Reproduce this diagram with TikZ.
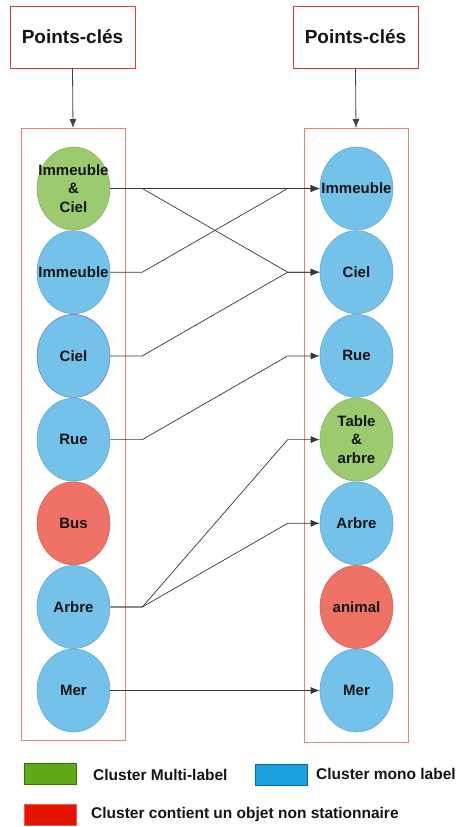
\documentclass[tikz,border=0pt]{standalone}
\usepackage{fontspec}
\setmainfont{Liberation Sans}
\usetikzlibrary{shapes.geometric,arrows.meta,calc}

\definecolor{blobblue}{RGB}{116,194,234}
\definecolor{blobblueline}{RGB}{104,166,212}
\definecolor{blobgreen}{RGB}{156,203,111}
\definecolor{blobgreenline}{RGB}{130,179,102}
\definecolor{blobred}{RGB}{238,114,102}
\definecolor{blobredline}{RGB}{214,100,90}
\definecolor{frameline}{RGB}{240,128,124}
\definecolor{titleline}{RGB}{232,58,58}
\definecolor{keygreen}{RGB}{96,169,23}
\definecolor{keygreenline}{RGB}{45,118,0}
\definecolor{keyblue}{RGB}{27,161,226}
\definecolor{keyblueline}{RGB}{0,110,175}
\definecolor{keyred}{RGB}{229,20,0}
\definecolor{keyredline}{RGB}{240,90,80}
\definecolor{ink}{RGB}{20,20,20}

\tikzset{
  titlebox/.style={draw=titleline, line width=0.9pt, minimum width=125pt, minimum height=62pt,
    font=\fontsize{19}{22}\selectfont\bfseries, text=ink},
  column/.style={draw=frameline, line width=1pt},
  blob/.style={ellipse, minimum width=73pt, minimum height=83pt, inner sep=0pt, line width=0.6pt},
  bblue/.style={blob, fill=blobblue, draw=blobblueline},
  bgreen/.style={blob, fill=blobgreen, draw=blobgreenline},
  bred/.style={blob, fill=blobred, draw=blobredline},
  blabel/.style={align=center, inner sep=0pt, text=ink,
    font=\fontsize{15}{18.5}\selectfont\bfseries},
  link/.style={draw=ink!85, line width=0.7pt, -{Latex[length=9pt,width=7pt]}},
  feed/.style={draw=ink!80, line width=0.8pt, -{Latex[length=9pt,width=7pt]}},
  keybox/.style={minimum width=52pt, minimum height=21pt, inner sep=0pt, line width=0.9pt},
  keytext/.style={anchor=west, inner sep=0pt, text=ink, font=\fontsize{15.5}{18}\selectfont\bfseries},
}

\begin{document}
\begin{tikzpicture}[x=1pt,y=-1pt]
  \useasboundingbox (0,0) rectangle (456,827);

  % headers
  \node[titlebox] (tl) at (72.5,37) {Points-clés};
  \node[titlebox] (tr) at (355.5,37) {Points-clés};

  % column frames
  \draw[column] (21,128) rectangle (125,740);
  \draw[column] (304,128) rectangle (408,742);
  \coordinate (fl) at (73,128);
  \coordinate (fr) at (356,128);
  \draw[feed] (tl.south) -- (fl);
  \draw[feed] (tr.south) -- (fr);

  % left column
  \node[bgreen] (l1) at (73.5,188.5) {};
  \node[bblue]  (l2) at (73.5,272.2) {};
  \node[bblue, draw={rgb,255:red,110;green,120;blue,215}] (l3) at (73.5,355.9) {};
  \node[bblue]  (l4) at (73.5,439.6) {};
  \node[bred]   (l5) at (73.5,523.3) {};
  \node[bblue]  (l6) at (73.5,607) {};
  \node[bblue]  (l7) at (73.5,690.5) {};

  \node[blabel] at (l1) {Immeuble\\\&\\Ciel};
  \node[blabel] at (l2) {Immeuble};
  \node[blabel] at (l3) {Ciel};
  \node[blabel] at (l4) {Rue};
  \node[blabel] at (l5) {Bus};
  \node[blabel] at (l6) {Arbre};
  \node[blabel] at (l7) {Mer};

  % right column
  \node[bblue]  (r1) at (356.5,188.5) {};
  \node[bblue]  (r2) at (356.5,272.2) {};
  \node[bblue]  (r3) at (356.5,355.9) {};
  \node[bgreen] (r4) at (356.5,439.6) {};
  \node[bblue]  (r5) at (356.5,523.3) {};
  \node[bred]   (r6) at (356.5,607) {};
  \node[bblue]  (r7) at (356.5,690.5) {};

  \node[blabel] at (r1) {Immeuble};
  \node[blabel] at (r2) {Ciel};
  \node[blabel] at (r3) {Rue};
  \node[blabel] at (r4) {Table\\\&\\arbre};
  \node[blabel] at (r5) {Arbre};
  \node[blabel] at (r6) {animal};
  \node[blabel] at (r7) {Mer};

  % correspondences
  \draw[link] (l1.east) -- (r1.west);
  \draw[link] (l1.east) -- ++(32,0) -- ($(r2.west)+(-32,0)$) -- (r2.west);
  \draw[link] (l2.east) -- ++(32,0) -- ($(r1.west)+(-32,0)$) -- (r1.west);
  \draw[link] (l3.east) -- ++(32,0) -- ($(r2.west)+(-32,0)$) -- (r2.west);
  \draw[link] (l4.east) -- ++(32,0) -- ($(r3.west)+(-32,0)$) -- (r3.west);
  \draw[link] (l6.east) -- ++(32,0) -- ($(r4.west)+(-32,0)$) -- (r4.west);
  \draw[link] (l6.east) -- ++(32,0) -- ($(r5.west)+(-32,0)$) -- (r5.west);
  \draw[link] (l7.east) -- (r7.west);

  % legend
  \node[keybox, fill=keygreen, draw=keygreenline] (kg) at (50,773.5) {};
  \node[keytext] (kgt) at (93,774.5) {Cluster Multi-label};
  \node[keybox, fill=keyblue, draw=keyblueline] (kb) at (281,774.5) {};
  \node[keytext] (kbt) at (316,773.5) {Cluster mono label};
  \node[keybox, fill=keyred, draw=keyredline] (kr) at (50,814.5) {};
  \node[keytext] (krt) at (91,814.5) {Cluster contient un objet non stationnaire};
\end{tikzpicture}
\end{document}
